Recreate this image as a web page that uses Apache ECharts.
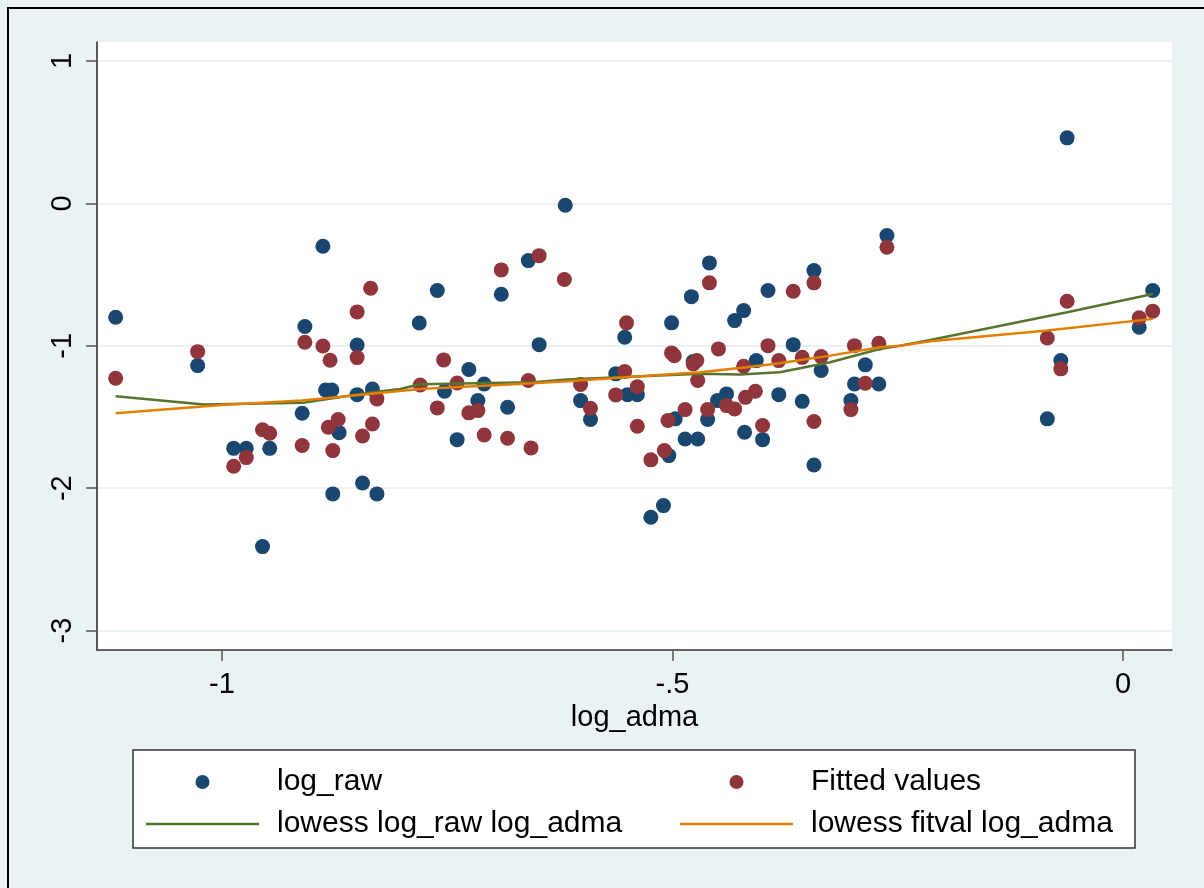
<!DOCTYPE html>
<html>
<head>
<meta charset="utf-8">
<script src="https://cdn.jsdelivr.net/npm/echarts@6/dist/echarts.min.js"></script>
<style>
html, body { margin: 0; padding: 0; background: #eaf2f3; }
#chart { width: 1204px; height: 888px; }
</style>
</head>
<body>
<div id="chart"></div>
<script>
// axis ticks
var xTicks = [-1, -0.5, 0];
var yTicks = [-3, -2, -1, 0, 1];

// log_raw vs log_adma
var rawPoints = [
    [-1.118, -0.80], [-1.027, -1.139], [-0.987, -1.72], [-0.973, -1.72], [-0.955, -2.41],
    [-0.947, -1.72], [-0.911, -1.474], [-0.908, -0.865], [-0.888, -0.301], [-0.885, -1.31],
    [-0.878, -1.31], [-0.877, -2.04], [-0.870, -1.61], [-0.850, -0.994], [-0.850, -1.343],
    [-0.844, -1.963], [-0.833, -1.303], [-0.828, -2.04], [-0.781, -0.84], [-0.761, -0.612],
    [-0.753, -1.319], [-0.739, -1.659], [-0.726, -1.167], [-0.716, -1.385], [-0.709, -1.268],
    [-0.690, -0.638], [-0.683, -1.432], [-0.660, -0.402], [-0.648, -0.992], [-0.619, -0.013],
    [-0.602, -1.385], [-0.591, -1.518], [-0.563, -1.197], [-0.553, -0.94], [-0.550, -1.343],
    [-0.539, -1.343], [-0.524, -2.204], [-0.510, -2.122], [-0.504, -1.771], [-0.501, -0.839],
    [-0.497, -1.513], [-0.486, -1.654], [-0.479, -0.655], [-0.477, -1.11], [-0.472, -1.654],
    [-0.461, -1.518], [-0.459, -0.418], [-0.450, -1.385], [-0.440, -1.338], [-0.431, -0.823],
    [-0.421, -0.753], [-0.420, -1.607], [-0.407, -1.104], [-0.400, -1.659], [-0.394, -0.612],
    [-0.382, -1.343], [-0.366, -0.992], [-0.356, -1.39], [-0.343, -0.472], [-0.343, -1.837],
    [-0.335, -1.174], [-0.302, -1.385], [-0.298, -1.268], [-0.286, -1.134], [-0.271, -1.268],
    [-0.262, -0.226], [-0.084, -1.513], [-0.069, -1.104], [-0.062, 0.46], [0.018, -0.87],
    [0.033, -0.612]
];

// Fitted values vs log_adma
var fittedPoints = [
    [-1.118, -1.228], [-1.027, -1.041], [-0.987, -1.846], [-0.973, -1.785], [-0.955, -1.59],
    [-0.947, -1.614], [-0.911, -1.70], [-0.908, -0.975], [-0.888, -1.001], [-0.882, -1.572],
    [-0.880, -1.102], [-0.877, -1.736], [-0.871, -1.518], [-0.850, -0.762], [-0.850, -1.083],
    [-0.844, -1.633], [-0.835, -0.596], [-0.833, -1.549], [-0.828, -1.373], [-0.780, -1.275],
    [-0.761, -1.436], [-0.754, -1.099], [-0.739, -1.261], [-0.726, -1.471], [-0.716, -1.455],
    [-0.709, -1.626], [-0.690, -0.467], [-0.683, -1.649], [-0.660, -1.244], [-0.657, -1.717],
    [-0.648, -0.367], [-0.620, -0.535], [-0.602, -1.272], [-0.591, -1.439], [-0.563, -1.345],
    [-0.553, -1.181], [-0.551, -0.839], [-0.539, -1.287], [-0.539, -1.565], [-0.524, -1.801],
    [-0.509, -1.736], [-0.505, -1.525], [-0.501, -1.05], [-0.498, -1.07], [-0.486, -1.448],
    [-0.477, -1.127], [-0.473, -1.104], [-0.472, -1.244], [-0.461, -1.448], [-0.459, -0.558],
    [-0.449, -1.022], [-0.440, -1.42], [-0.431, -1.443], [-0.421, -1.144], [-0.419, -1.362],
    [-0.408, -1.319], [-0.400, -1.56], [-0.394, -0.999], [-0.382, -1.104], [-0.366, -0.617],
    [-0.356, -1.081], [-0.343, -0.558], [-0.343, -1.532], [-0.335, -1.076], [-0.302, -1.448],
    [-0.298, -0.999], [-0.286, -1.263], [-0.271, -0.982], [-0.262, -0.308], [-0.084, -0.945],
    [-0.069, -1.162], [-0.062, -0.687], [0.018, -0.804], [0.033, -0.757]
];

// lowess curves
var lowessRaw = [
    [-1.118, -1.355], [-1.02, -1.413], [-0.91, -1.40], [-0.833, -1.326], [-0.802, -1.303],
    [-0.78, -1.27], [-0.655, -1.256], [-0.617, -1.237], [-0.469, -1.197], [-0.425, -1.202],
    [-0.381, -1.186], [-0.325, -1.116], [-0.27, -1.022], [-0.2475, -1.0], [-0.214, -0.959],
    [-0.062, -0.765], [0.033, -0.636]
];
var lowessFit = [
    [-1.118, -1.474], [-1.0, -1.415], [-0.911, -1.385], [-0.78, -1.303], [-0.655, -1.263],
    [-0.617, -1.249], [-0.469, -1.186], [-0.418, -1.151], [-0.381, -1.123], [-0.325, -1.069],
    [-0.27, -1.01], [-0.2475, -0.999], [-0.214, -0.968], [-0.084, -0.893], [0.033, -0.811]
];

var font = "'Liberation Sans', Arial, sans-serif";
var lineIcon = 'path://M0,0 L113,0 L113,2.5 L0,2.5 Z';

function legendBox(left, names) {
    return {
        left: left, top: 767, orient: 'vertical', padding: 0,
        itemWidth: 113, itemHeight: 14, itemGap: 12,
        selectedMode: false,
        textStyle: { fontSize: 30, lineHeight: 30, color: '#000', padding: [0, 0, 0, 13] },
        data: [
            { name: names[0], icon: 'circle' },
            { name: names[1], icon: lineIcon }
        ]
    };
}

option = {
    backgroundColor: '#eaf2f3',
    animation: false,
    textStyle: { fontFamily: font, color: '#000' },
    grid: {
        left: 97, right: 32, top: 42, bottom: 238,
        show: true, backgroundColor: '#fff', borderWidth: 0
    },
    xAxis: {
        type: 'value',
        min: -1.1387, max: 0.0544,
        name: 'log_adma',
        nameLocation: 'middle',
        nameGap: 52,
        nameTextStyle: { fontSize: 29, color: '#000', fontFamily: font },
        axisLine: { onZero: false, lineStyle: { color: '#333', width: 1.5 } },
        axisTick: { length: 11, customValues: xTicks, lineStyle: { color: '#555', width: 1.5 } },
        axisLabel: {
            customValues: xTicks,
            fontSize: 29, color: '#000', margin: 20,
            formatter: function (v) { return String(v).replace('0.', '.'); }
        },
        splitLine: { show: false }
    },
    yAxis: {
        type: 'value',
        min: -3.136, max: 1.133,
        axisLine: { show: true, onZero: false, lineStyle: { color: '#222', width: 1.5 } },
        axisTick: { show: true, length: 11, customValues: yTicks, lineStyle: { color: '#555', width: 1.5 } },
        axisLabel: {
            customValues: yTicks,
            rotate: 90,
            fontSize: 29, color: '#000', margin: 20,
            formatter: function (v) { return String(v); }
        },
        splitLine: { show: true, lineStyle: { color: '#eaf2f3', width: 2 } }
    },
    legend: [
        legendBox(146, ['log_raw', 'lowess log_raw log_adma']),
        legendBox(680, ['Fitted values', 'lowess fitval log_adma'])
    ],
    graphic: [
        {
            type: 'rect', z: 1,
            shape: { x: 133, y: 750, width: 1002, height: 98 },
            style: { fill: '#fff', stroke: '#333', lineWidth: 1.5 }
        },
        {
            type: 'rect', z: 1,
            shape: { x: 8, y: 8, width: 1300, height: 1000 },
            style: { fill: 'none', stroke: '#000', lineWidth: 2 }
        }
    ],
    series: [
        {
            name: 'log_raw', type: 'scatter',
            symbol: 'circle', symbolSize: 15,
            itemStyle: { color: '#1a476f', opacity: 1 },
            data: rawPoints
        },
        {
            name: 'Fitted values', type: 'scatter',
            symbol: 'circle', symbolSize: 15,
            itemStyle: { color: '#90353b', opacity: 1 },
            data: fittedPoints
        },
        {
            name: 'lowess log_raw log_adma', type: 'line',
            symbol: 'none',
            itemStyle: { color: '#55752f' },
            lineStyle: { color: '#55752f', width: 2.5 },
            data: lowessRaw
        },
        {
            name: 'lowess fitval log_adma', type: 'line',
            symbol: 'none',
            itemStyle: { color: '#e37e00' },
            lineStyle: { color: '#e37e00', width: 2.5 },
            data: lowessFit
        }
    ]
};

var chart = echarts.init(document.getElementById('chart'));
chart.setOption(option, true);
</script>
</body>
</html>
